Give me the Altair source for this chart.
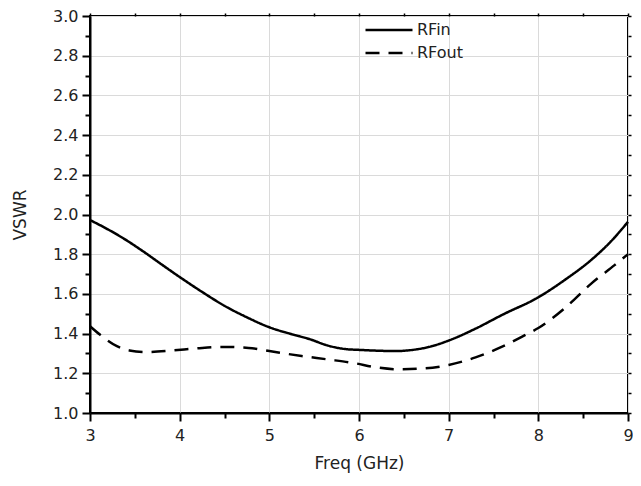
import altair as alt
import pandas as pd

# RFin curve (Freq GHz, VSWR)
freq_in = [3.0, 3.2, 3.4, 3.6, 3.8, 4.0, 4.25, 4.5, 4.75, 5.0, 5.25, 5.45, 5.65, 5.85,
           6.0, 6.2, 6.4, 6.6, 6.8, 7.0, 7.3, 7.6, 8.0, 8.3, 8.6, 8.8, 9.0]
vswr_in = [1.972, 1.925, 1.872, 1.812, 1.748, 1.685, 1.61, 1.54, 1.482, 1.432, 1.397, 1.372, 1.34, 1.322,
           1.318, 1.314, 1.312, 1.318, 1.335, 1.365, 1.425, 1.495, 1.583, 1.672, 1.775, 1.86, 1.963]

# RFout curve
freq_out = [3.0, 3.11, 3.30, 3.44, 3.63, 3.92, 4.18, 4.47, 4.77, 5.0, 5.36, 5.65, 5.94,
            6.19, 6.44, 6.74, 7.0, 7.30, 7.59, 7.85, 8.0, 8.30, 8.59, 8.85, 9.0]
vswr_out = [1.437, 1.395, 1.337, 1.315, 1.307, 1.315, 1.325, 1.333, 1.328, 1.312, 1.287, 1.27, 1.252,
            1.23, 1.22, 1.225, 1.242, 1.28, 1.333, 1.392, 1.428, 1.53, 1.652, 1.745, 1.80]

series_names = ["RFin", "RFout"]
x_ticks = [3, 4, 5, 6, 7, 8, 9]
x_minor = [3.5, 4.5, 5.5, 6.5, 7.5, 8.5]
x_all = [3, 3.5, 4, 4.5, 5, 5.5, 6, 6.5, 7, 7.5, 8, 8.5, 9]
y_ticks = [1.0, 1.2, 1.4, 1.6, 1.8, 2.0, 2.2, 2.4, 2.6, 2.8, 3.0]
y_minor = [1.1, 1.3, 1.5, 1.7, 1.9, 2.1, 2.3, 2.5, 2.7, 2.9]
y_all = sorted(y_ticks + y_minor)

df = pd.concat([
    pd.DataFrame({"freq": freq_in, "vswr": vswr_in, "series": series_names[0]}),
    pd.DataFrame({"freq": freq_out, "vswr": vswr_out, "series": series_names[1]}),
])

FONT = "DejaVu Sans"
xscale = alt.Scale(domain=[3, 9], nice=False, zero=False)
yscale = alt.Scale(domain=[1, 3], nice=False, zero=False)

lines = alt.Chart(df).mark_line(color="black", strokeWidth=2.5, interpolate="monotone").encode(
    x=alt.X("freq:Q", scale=xscale, title="Freq (GHz)",
            axis=alt.Axis(orient="bottom", values=x_ticks, format="d", tickSize=8, tickWidth=2,
                          tickColor="black", domainColor="black", domainWidth=2,
                          grid=True, gridColor="#dadada", gridWidth=1,
                          labelFlush=False, labelOverlap=False, labelPadding=6,
                          titlePadding=12)),
    y=alt.Y("vswr:Q", scale=yscale, title="VSWR",
            axis=alt.Axis(orient="left", values=y_ticks, format=".1f", tickSize=8, tickWidth=2,
                          tickColor="black", domainColor="black", domainWidth=2,
                          grid=True, gridColor="#dadada", gridWidth=1,
                          labelFlush=False, labelOverlap=False, labelPadding=4,
                          titlePadding=23)),
    strokeDash=alt.StrokeDash("series:N",
                              scale=alt.Scale(domain=series_names, range=[[1, 0], [14, 9]]),
                              legend=alt.Legend(title=None, orient="none", legendX=274, legendY=4,
                                                symbolType="stroke", symbolSize=2209,
                                                symbolStrokeWidth=2.5, symbolStrokeColor="black",
                                                labelFont=FONT, labelFontSize=16, labelColor="#222",
                                                labelOffset=3, clipHeight=20, rowPadding=3,
                                                padding=0)),
)

minor = alt.Chart(df).mark_point(opacity=0).encode(
    x=alt.X("freq:Q", scale=xscale, title=None,
            axis=alt.Axis(orient="bottom", values=x_minor, labels=False, grid=False, domain=False,
                          tickSize=5, tickWidth=2, tickColor="black")),
    y=alt.Y("vswr:Q", scale=yscale, title=None,
            axis=alt.Axis(orient="left", values=y_minor, labels=False, grid=False, domain=False,
                          tickSize=5, tickWidth=2, tickColor="black")),
)

frame = alt.Chart(df).mark_point(opacity=0).encode(
    x=alt.X("freq:Q", scale=xscale, title=None,
            axis=alt.Axis(orient="top", values=x_all, labels=False, grid=False, domain=False,
                          tickSize=3, tickWidth=1.5, tickColor="black")),
    y=alt.Y("vswr:Q", scale=yscale, title=None,
            axis=alt.Axis(orient="right", values=y_all, labels=False, grid=False, domain=False,
                          tickSize=3, tickWidth=1.5, tickColor="black")),
)

chart = alt.layer(lines, minor, frame).resolve_axis(
    x="independent", y="independent"
).properties(
    width=538, height=397,
    autosize=alt.AutoSizeParams(type="none"),
    padding={"left": 82, "top": 8, "right": 5, "bottom": 60},
    background="white",
).configure_view(
    stroke="black", strokeWidth=2
).configure_axis(
    labelFont=FONT, labelFontSize=16, labelColor="#222",
    titleFont=FONT, titleFontSize=17, titleFontWeight="normal", titleColor="#222",
)

chart.save("out.html", embed_options={"renderer": "svg", "actions": False})
